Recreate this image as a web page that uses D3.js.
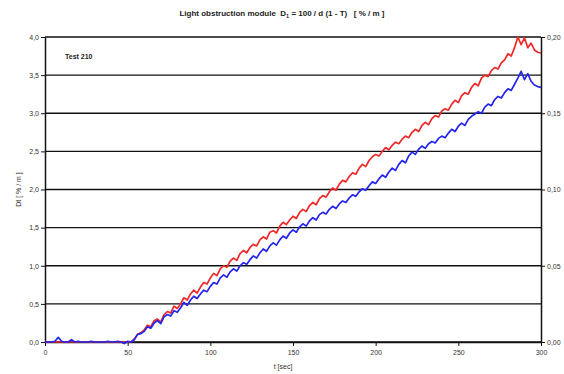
<!DOCTYPE html>
<html>
<head>
<meta charset="utf-8">
<script src="https://cdn.jsdelivr.net/npm/d3@7"></script>
<style>
  body { margin: 0; background: #fff; }
  svg { font-family: "Liberation Sans", Arial, sans-serif; }
  text { white-space: pre; }
</style>
</head>
<body>
<div id="chart"></div>
<script>
// time in seconds, one reading every 2 s
const times = [
  0, 2, 4, 6, 8, 10, 12, 14, 16, 18,
  20, 22, 24, 26, 28, 30, 32, 34, 36, 38,
  40, 42, 44, 46, 48, 50, 52, 54, 56, 58,
  60, 62, 64, 66, 68, 70, 72, 74, 76, 78,
  80, 82, 84, 86, 88, 90, 92, 94, 96, 98,
  100, 102, 104, 106, 108, 110, 112, 114, 116, 118,
  120, 122, 124, 126, 128, 130, 132, 134, 136, 138,
  140, 142, 144, 146, 148, 150, 152, 154, 156, 158,
  160, 162, 164, 166, 168, 170, 172, 174, 176, 178,
  180, 182, 184, 186, 188, 190, 192, 194, 196, 198,
  200, 202, 204, 206, 208, 210, 212, 214, 216, 218,
  220, 222, 224, 226, 228, 230, 232, 234, 236, 238,
  240, 242, 244, 246, 248, 250, 252, 254, 256, 258,
  260, 262, 264, 266, 268, 270, 272, 274, 276, 278,
  280, 282, 284, 286, 288, 290, 292, 294, 296, 298,
  300
];

const redSeries = [
  0, 0, 0, 0, 0, 0, 0, 0, 0, 0,
  0, 0, 0, 0, 0, 0, 0, 0, 0, 0,
  0, 0, 0, 0, 0, 0, 0, 0.04, 0.1, 0.12,
  0.16, 0.22, 0.2, 0.28, 0.3, 0.26, 0.36, 0.4, 0.38, 0.47,
  0.44, 0.5, 0.58, 0.55, 0.63, 0.68, 0.64, 0.72, 0.78, 0.76,
  0.84, 0.9, 0.87, 0.96, 1.0, 0.98, 1.06, 1.1, 1.07, 1.16,
  1.2, 1.17, 1.24, 1.28, 1.26, 1.34, 1.38, 1.35, 1.44, 1.46,
  1.43, 1.52, 1.57, 1.54, 1.6, 1.65, 1.62, 1.7, 1.74, 1.71,
  1.79, 1.83, 1.8, 1.88, 1.92, 1.9, 1.97, 2.02, 1.99, 2.07,
  2.12, 2.1, 2.17, 2.22, 2.2, 2.28, 2.33, 2.3, 2.38, 2.43,
  2.46, 2.44, 2.5, 2.55, 2.52, 2.58, 2.62, 2.6, 2.66, 2.7,
  2.68, 2.75, 2.79, 2.76, 2.84, 2.88, 2.85, 2.93, 2.97, 2.95,
  3.03, 3.06, 3.04, 3.12, 3.17, 3.14, 3.23, 3.27, 3.25, 3.34,
  3.39, 3.36, 3.46, 3.5, 3.48, 3.56, 3.6, 3.58, 3.66, 3.7,
  3.78, 3.75, 3.86, 4.0, 3.9, 3.99, 3.86, 3.92, 3.83, 3.8,
  3.79
];

const blueSeries = [
  0, 0, 0, 0.01, 0.06, 0.01, 0, 0, 0.03, 0,
  0.01, 0, 0, 0, 0.01, 0, 0, 0, 0, 0.01,
  0, 0, 0.01, 0, -0.02, 0.01, 0, 0.03, 0.1, 0.11,
  0.14, 0.2, 0.18, 0.25, 0.28, 0.24, 0.33, 0.36, 0.34, 0.41,
  0.39, 0.45, 0.52, 0.48, 0.55, 0.6, 0.57, 0.63, 0.68, 0.66,
  0.73, 0.78, 0.76, 0.84, 0.88, 0.85, 0.92, 0.96, 0.93, 1.0,
  1.04, 1.02, 1.08, 1.13, 1.1, 1.17, 1.22, 1.19, 1.26, 1.3,
  1.27, 1.34, 1.39, 1.36, 1.43, 1.47, 1.44, 1.51, 1.55, 1.52,
  1.59, 1.63, 1.6, 1.67, 1.7, 1.68, 1.74, 1.78, 1.75, 1.81,
  1.85, 1.83, 1.89, 1.93, 1.91, 1.97, 2.01, 1.99, 2.05, 2.1,
  2.08, 2.14, 2.19, 2.16, 2.23, 2.28, 2.25, 2.33, 2.38, 2.35,
  2.44, 2.49, 2.46, 2.53, 2.57, 2.54, 2.6, 2.63, 2.61, 2.67,
  2.7, 2.68, 2.74, 2.79, 2.76, 2.83, 2.87, 2.84, 2.92, 2.96,
  2.99, 3.02, 3.0, 3.08, 3.12, 3.1, 3.18, 3.22, 3.2, 3.27,
  3.32, 3.3, 3.38, 3.46, 3.55, 3.44, 3.52, 3.42, 3.37, 3.35,
  3.34
];

const xTicks = [0, 50, 100, 150, 200, 250, 300];
const leftTicks = [0, 0.5, 1, 1.5, 2, 2.5, 3, 3.5, 4];
const rightTicks = [0, 0.05, 0.1, 0.15, 0.2];

const width = 564, height = 374;
const margin = { top: 37, right: 23, bottom: 32, left: 45 };

const svg = d3.select('#chart')
  .append('svg')
  .attr('width', width)
  .attr('height', height);

const x = d3.scaleLinear().domain([0, 300]).range([margin.left, width - margin.right]);
const y = d3.scaleLinear().domain([0, 4]).range([height - margin.bottom, margin.top]);
const y2 = d3.scaleLinear().domain([0, 0.2]).range([height - margin.bottom, margin.top]);

const comma = f => d => d3.format(f)(d).replace('.', ',');

// horizontal grid
svg.append('g')
  .selectAll('line')
  .data(leftTicks)
  .enter()
  .append('line')
  .attr('x1', x(0))
  .attr('x2', x(300))
  .attr('y1', d => y(d))
  .attr('y2', d => y(d))
  .attr('stroke', '#111')
  .attr('stroke-width', 1.3);

// axes
const styleAxis = g => {
  g.select('.domain').attr('stroke', '#111').attr('stroke-width', 1.5);
  g.selectAll('.tick line').attr('stroke', '#111');
  g.selectAll('.tick text').attr('fill', '#333').attr('font-size', 7);
};

svg.append('g')
  .attr('transform', `translate(${margin.left},0)`)
  .call(d3.axisLeft(y).tickValues(leftTicks).tickFormat(comma('.1f')).tickSize(4).tickSizeOuter(0).tickPadding(2))
  .call(styleAxis);

svg.append('g')
  .attr('transform', `translate(${width - margin.right},0)`)
  .call(d3.axisRight(y2).tickValues(rightTicks).tickFormat(comma('.2f')).tickSize(4).tickSizeOuter(0).tickPadding(2))
  .call(styleAxis);

svg.append('g')
  .attr('transform', `translate(0,${height - margin.bottom})`)
  .call(d3.axisBottom(x).tickValues(xTicks).tickFormat(d3.format('d')).tickSize(4).tickSizeOuter(0).tickPadding(4))
  .call(styleAxis);

// series
const line = d3.line()
  .x((d, i) => x(times[i]))
  .y(d => y(d));

svg.append('path')
  .datum(redSeries)
  .attr('fill', 'none')
  .attr('stroke', '#f02828')
  .attr('stroke-width', 1.7)
  .attr('stroke-linejoin', 'round')
  .attr('d', line);

svg.append('path')
  .datum(blueSeries)
  .attr('fill', 'none')
  .attr('stroke', '#2424f0')
  .attr('stroke-width', 1.7)
  .attr('stroke-linejoin', 'round')
  .attr('d', line);

// texts
const title = svg.append('text')
  .attr('x', 282)
  .attr('y', 16)
  .attr('text-anchor', 'middle')
  .attr('font-size', 8)
  .attr('font-weight', 'bold')
  .attr('fill', '#222');
title.append('tspan').text('Light obstruction module  D');
title.append('tspan').attr('font-size', 5.5).attr('dy', 2).text('1');
title.append('tspan').attr('dy', -2).text(' = 100 / d (1 - T)   [ % / m ]');

svg.append('text')
  .attr('x', 65)
  .attr('y', 59)
  .attr('font-size', 7)
  .attr('font-weight', 'bold')
  .attr('fill', '#222')
  .text('Test 210');

svg.append('text')
  .attr('transform', `translate(21,${y(2)}) rotate(-90)`)
  .attr('text-anchor', 'middle')
  .attr('font-size', 7)
  .attr('fill', '#333')
  .text('Dt [ % / m ]');

svg.append('text')
  .attr('x', x(150) - 10)
  .attr('y', 369)
  .attr('text-anchor', 'middle')
  .attr('font-size', 7)
  .attr('fill', '#333')
  .text('t [sec]');
</script>
</body>
</html>
